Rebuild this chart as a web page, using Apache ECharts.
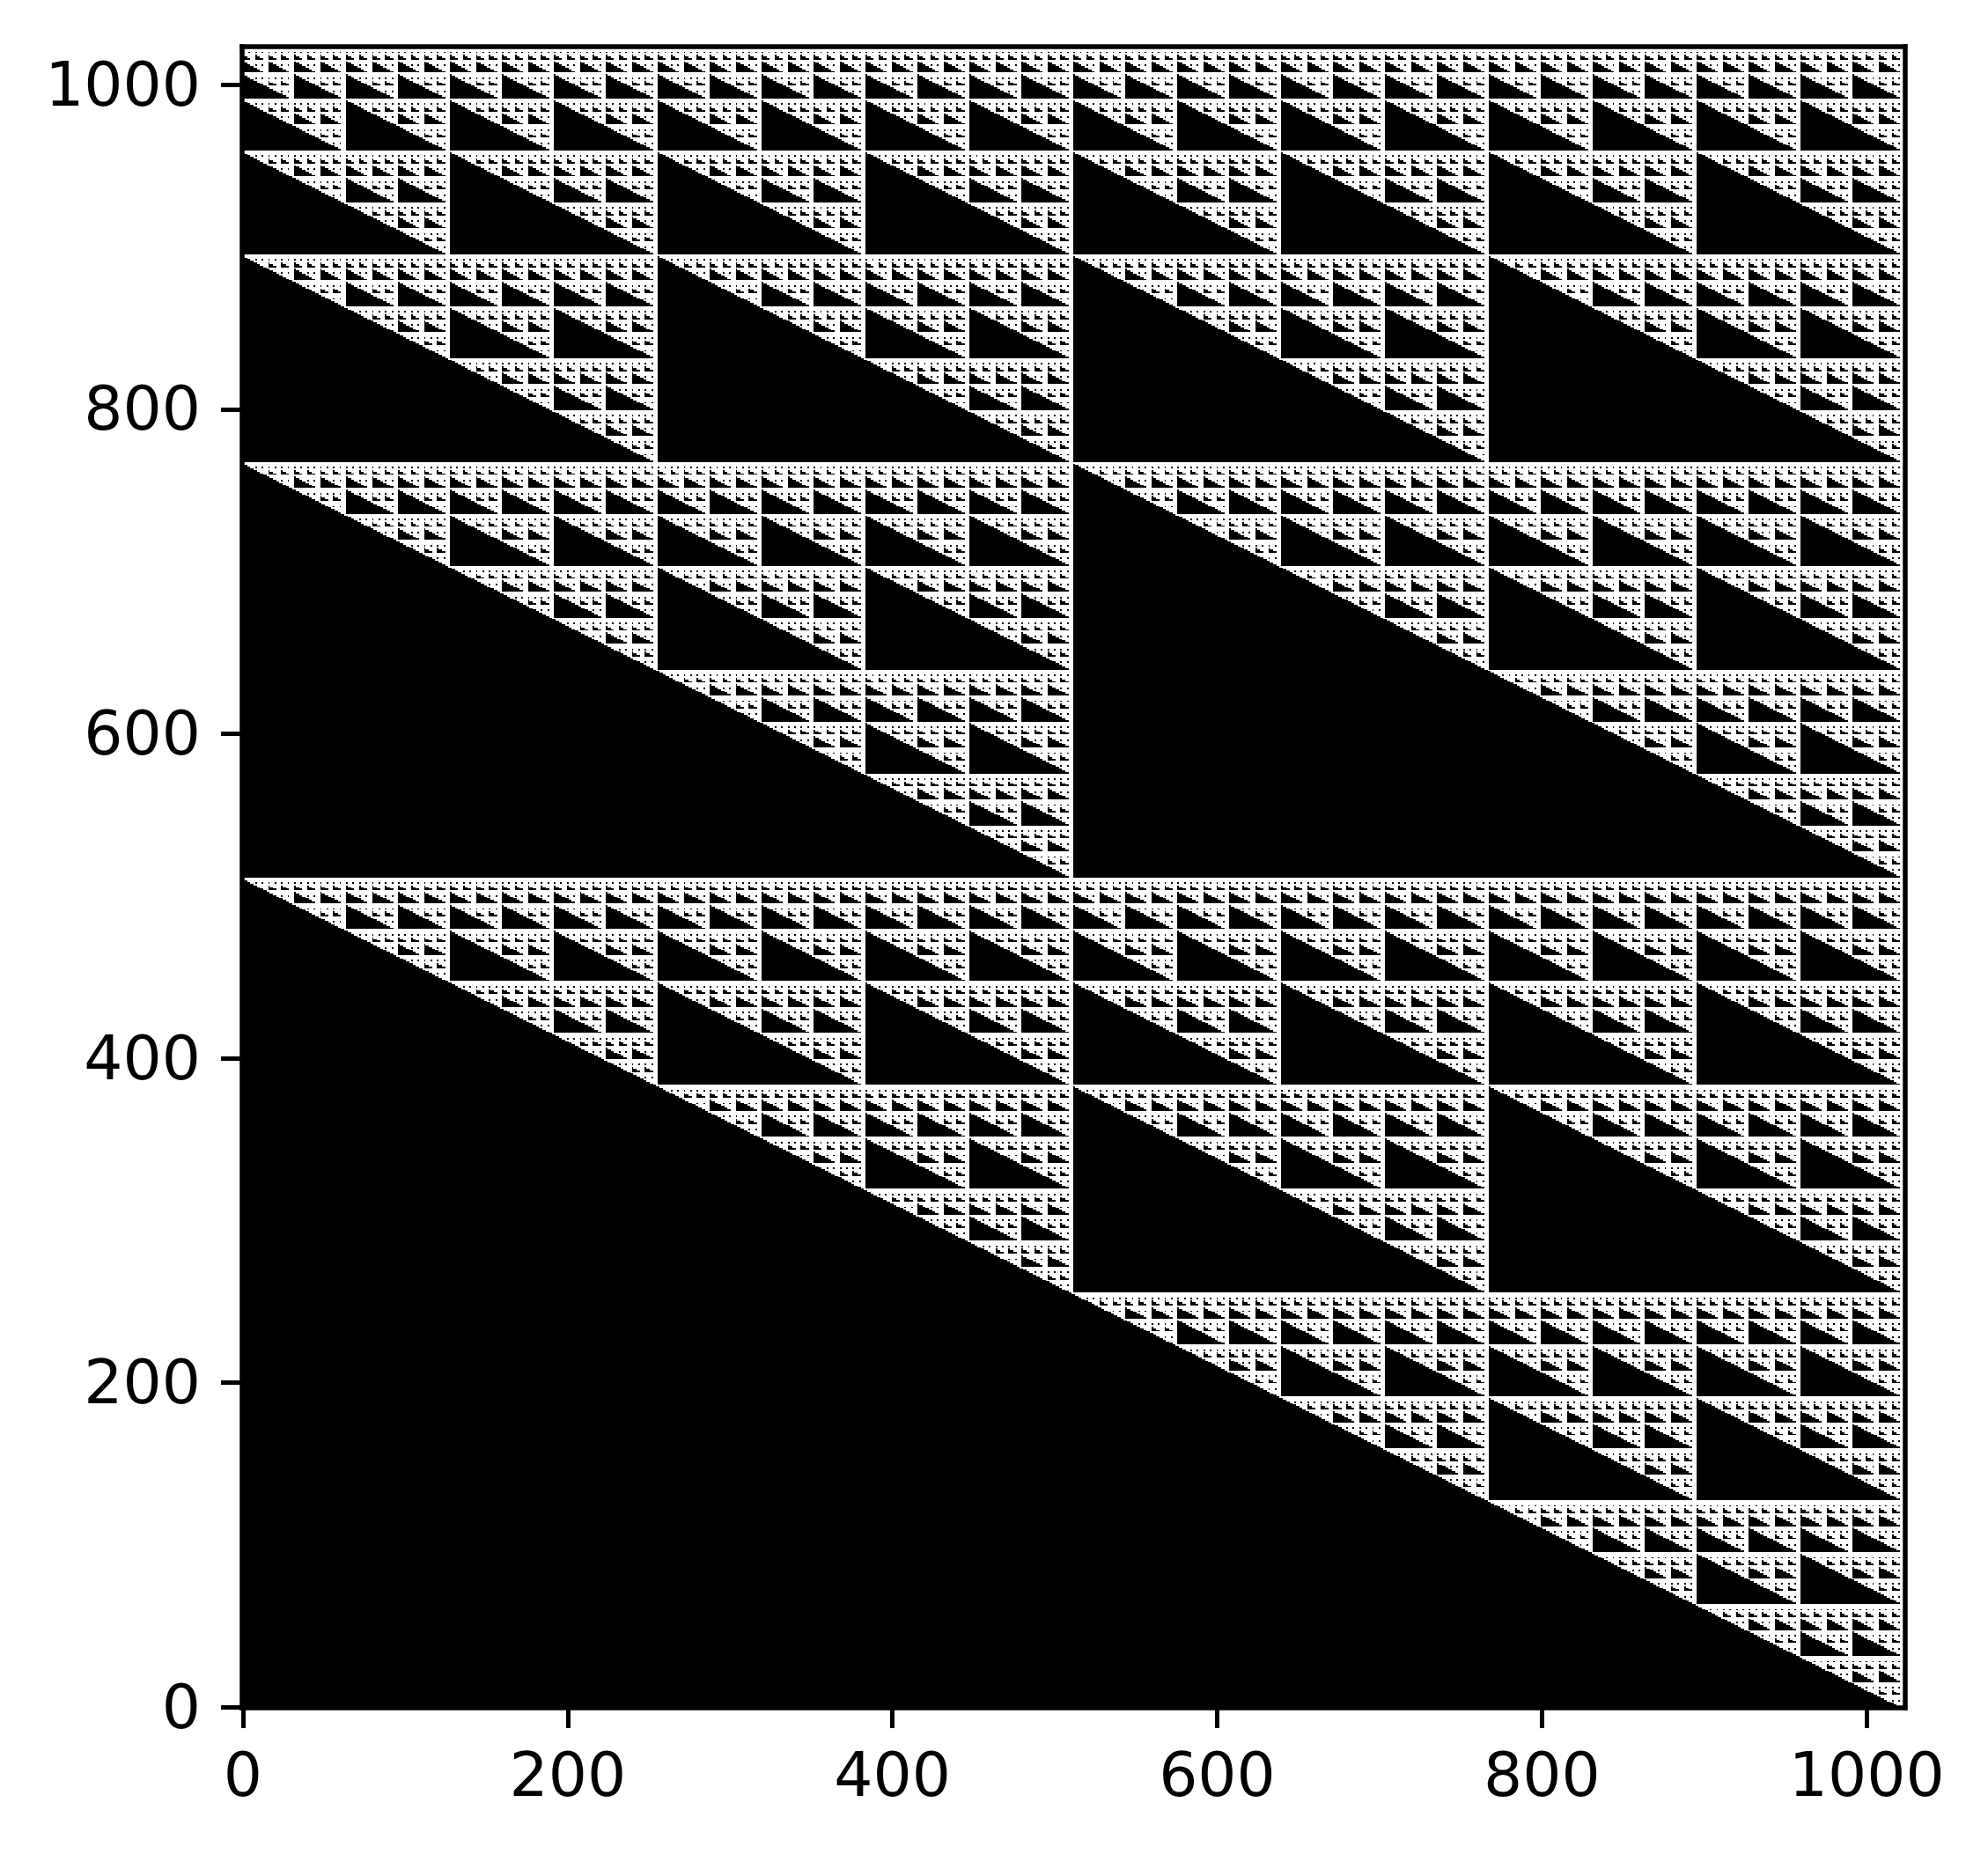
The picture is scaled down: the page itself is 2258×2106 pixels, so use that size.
<!DOCTYPE html>
<html>
<head>
<meta charset="utf-8">
<style>html,body{margin:0;padding:0;background:#fff}#c{width:2258px;height:2106px}</style>
<script src="https://cdn.jsdelivr.net/npm/echarts@6/dist/echarts.min.js"></script>
</head>
<body>
<div id="c"></div>
<script>
const tickValues = [0, 200, 400, 600, 800, 1000];

// Tile motifs, 32x32 cells, top row first. '#' = black cell.
const tileS = [
"................................",
"................................",
"................................",
"#...#...#...#...#...#...#...#...",
"................................",
"#.......#.......#.......#.......",
"###.....###.....###.....###.....",
"#####...#####...#####...#####...",
"................................",
"#...............#...............",
"###.............###.............",
"#####...#...#...#####...#...#...",
"#######.........#######.........",
"#########.......#########.......",
"###########.....###########.....",
"#############...#############...",
"................................",
"#...............................",
"###.............................",
"#####...#...#...#...#...#...#...",
"#######.........................",
"#########.......#.......#.......",
"###########.....###.....###.....",
"#############...#####...#####...",
"###############.................",
"#################...............",
"###################.............",
"#####################...#...#...",
"#######################.........",
"#########################.......",
"###########################.....",
"#############################..."
];
const tileL = [
"................................",
"#...............................",
"###.............................",
"#####...#...#...#...#...#...#...",
"#######.........................",
"#########.......#.......#.......",
"###########.....###.....###.....",
"#############...#####...#####...",
"###############.................",
"#################...............",
"###################.............",
"#####################...#...#...",
"#######################.........",
"#########################.......",
"###########################.....",
"#############################...",
"###############################.",
"################################","################################","################################",
"################################","################################","################################",
"################################","################################","################################",
"################################","################################","################################",
"################################","################################","################################"
];
const tileK = [
"################################","################################","################################","################################",
"################################","################################","################################","################################",
"################################","################################","################################","################################",
"################################","################################","################################","################################",
"################################","################################","################################","################################",
"################################","################################","################################","################################",
"################################","################################","################################","################################",
"################################","################################","################################","################################"
];
const tileC = [
"###############################.",
"################################","################################","################################",
"################################","################################","################################","################################",
"################################","################################","################################","################################",
"################################","################################","################################","################################",
"################################","################################","################################","################################",
"################################","################################","################################","################################",
"################################","################################","################################","################################",
"################################","################################","################################","################################"
];

// Which motif sits in each 32x32 block of the image, top row first.
const blockMap = [
"SSSSSSSSSSSSSSSSSSSSSSSSSSSSSSSS",
"LSLSLSLSLSLSLSLSLSLSLSLSLSLSLSLS",
"LSSSLSSSLSSSLSSSLSSSLSSSLSSSLSSS",
"KCLSKCLSKCLSKCLSKCLSKCLSKCLSKCLS",
"LSSSSSSSLSSSSSSSLSSSSSSSLSSSSSSS",
"KCLSLSLSKCLSLSLSKCLSLSLSKCLSLSLS",
"KKKCLSSSKKKCLSSSKKKCLSSSKKKCLSSS",
"KKKKKCLSKKKKKCLSKKKKKCLSKKKKKCLS",
"LSSSSSSSSSSSSSSSLSSSSSSSSSSSSSSS",
"KCLSLSLSLSLSLSLSKCLSLSLSLSLSLSLS",
"KKKCLSSSLSSSLSSSKKKCLSSSLSSSLSSS",
"KKKKKCLSKCLSKCLSKKKKKCLSKCLSKCLS",
"KKKKKKKCLSSSSSSSKKKKKKKCLSSSSSSS",
"KKKKKKKKKCLSLSLSKKKKKKKKKCLSLSLS",
"KKKKKKKKKKKCLSSSKKKKKKKKKKKCLSSS",
"KKKKKKKKKKKKKCLSKKKKKKKKKKKKKCLS",
"LSSSSSSSSSSSSSSSSSSSSSSSSSSSSSSS",
"KCLSLSLSLSLSLSLSLSLSLSLSLSLSLSLS",
"KKKCLSSSLSSSLSSSLSSSLSSSLSSSLSSS",
"KKKKKCLSKCLSKCLSKCLSKCLSKCLSKCLS",
"KKKKKKKCLSSSSSSSLSSSSSSSLSSSSSSS",
"KKKKKKKKKCLSLSLSKCLSLSLSKCLSLSLS",
"KKKKKKKKKKKCLSSSKKKCLSSSKKKCLSSS",
"KKKKKKKKKKKKKCLSKKKKKCLSKKKKKCLS",
"KKKKKKKKKKKKKKKCLSSSSSSSSSSSSSSS",
"KKKKKKKKKKKKKKKKKCLSLSLSLSLSLSLS",
"KKKKKKKKKKKKKKKKKKKCLSSSLSSSLSSS",
"KKKKKKKKKKKKKKKKKKKKKCLSKCLSKCLS",
"KKKKKKKKKKKKKKKKKKKKKKKCLSSSSSSS",
"KKKKKKKKKKKKKKKKKKKKKKKKKCLSLSLS",
"KKKKKKKKKKKKKKKKKKKKKKKKKKKCLSSS",
"KKKKKKKKKKKKKKKKKKKKKKKKKKKKKCLS"
];

const tiles = { S: tileS, L: tileL, K: tileK, C: tileC };
const tileNames = ['S', 'L', 'K', 'C'];

// Turn a motif into merged runs of black cells: [firstCol, endCol, firstRow, endRow]
function runsOf(rows) {
  const out = [], open = {};
  rows.forEach(function (row, r) {
    const seen = {};
    let c = 0;
    while (c < row.length) {
      if (row[c] !== '#') { c++; continue; }
      let e = c;
      while (e < row.length && row[e] === '#') e++;
      const key = c + '_' + e;
      seen[key] = 1;
      if (open[key]) open[key][3] = r + 1;
      else { open[key] = [c, e, r, r + 1]; out.push(open[key]); }
      c = e;
    }
    Object.keys(open).forEach(function (k) { if (!seen[k]) delete open[k]; });
  });
  return out;
}
const tileRuns = tileNames.map(function (n) { return runsOf(tiles[n]); });

const blocks = [];
blockMap.forEach(function (line, row) {
  for (let col = 0; col < line.length; col++) {
    blocks.push([col * 32, 1023 - row * 32, tileNames.indexOf(line[col])]);
  }
});

function renderBlock(params, api) {
  const x0 = api.value(0), yTop = api.value(1), runs = tileRuns[api.value(2)];
  const children = runs.map(function (run) {
    const a = api.coord([x0 + run[0] - 0.5, yTop - run[2] + 0.5]);
    const b = api.coord([x0 + run[1] - 0.5, yTop - run[3] + 0.5]);
    const l = Math.round(a[0]), t = Math.round(a[1]);
    return {
      type: 'rect', silent: true,
      shape: { x: l, y: t, width: Math.round(b[0]) - l, height: Math.round(b[1]) - t },
      style: { fill: '#000' }
    };
  });
  return { type: 'group', children: children };
}

const spine = { show: true, onZero: false, lineStyle: { color: '#000', width: 5.5, cap: 'square' } };
const font = { color: '#000', fontFamily: 'DejaVu Sans', fontSize: 69.5 };

const chart = echarts.init(document.getElementById('c'), null, { renderer: 'canvas' });
chart.setOption({
  animation: false,
  backgroundColor: '#fff',
  tooltip: { show: false },
  grid: { left: 275, top: 53, width: 1888.5, height: 1887, containLabel: false },
  xAxis: [
    { type: 'value', min: -0.5, max: 1023.5, position: 'bottom', z: 5, axisLine: spine, splitLine: { show: false },
      axisTick: { show: true, length: 23, customValues: tickValues, lineStyle: { color: '#000', width: 5 } },
      axisLabel: Object.assign({ show: true, margin: 47, customValues: tickValues, formatter: function (v) { return String(v); } }, font) },
    { type: 'value', min: -0.5, max: 1023.5, position: 'top', z: 5, axisLine: spine, splitLine: { show: false },
      axisTick: { show: false }, axisLabel: { show: false } }
  ],
  yAxis: [
    { type: 'value', min: -0.5, max: 1023.5, position: 'left', z: 5, axisLine: spine, splitLine: { show: false },
      axisTick: { show: true, length: 24, customValues: tickValues, lineStyle: { color: '#000', width: 5 } },
      axisLabel: Object.assign({ show: true, margin: 47, verticalAlign: 'top', lineHeight: 11, customValues: tickValues, formatter: function (v) { return String(v); } }, font) },
    { type: 'value', min: -0.5, max: 1023.5, position: 'right', z: 5, axisLine: spine, splitLine: { show: false },
      axisTick: { show: false }, axisLabel: { show: false } }
  ],
  series: [{
    type: 'custom',
    z: 1,
    xAxisIndex: 0,
    yAxisIndex: 0,
    coordinateSystem: 'cartesian2d',
    silent: true,
    progressive: 0,
    clip: false,
    encode: { x: 0, y: 1 },
    renderItem: renderBlock,
    data: blocks
  }]
});
</script>
</body>
</html>
